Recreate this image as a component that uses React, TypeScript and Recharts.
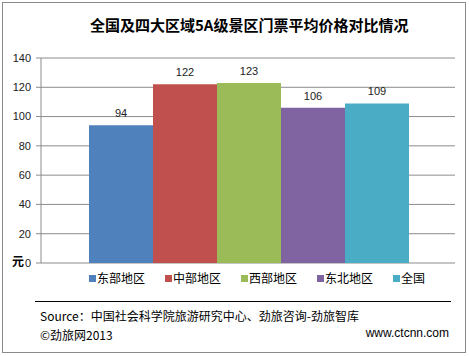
import React from 'react';
import { BarChart, Bar, XAxis, YAxis, CartesianGrid, LabelList } from 'recharts';

const categories = [''];
const seriesNames = ['东部地区', '中部地区', '西部地区', '东北地区', '全国'];
const seriesValues = [94, 122, 123, 106, 109];
const seriesColors = ['#4F81BD', '#C0504D', '#9BBB59', '#8064A2', '#4BACC6'];
const yTicks = [0, 20, 40, 60, 80, 100, 120, 140];
const title = '全国及四大区域5A级景区门票平均价格对比情况';
const yUnit = '元';
const sourceText = 'Source：中国社会科学院旅游研究中心、劲旅咨询-劲旅智库';
const copyrightText = '©劲旅网2013';
const siteText = 'www.ctcnn.com';

const data = categories.map((c) => {
  const row: Record<string, string | number> = { name: c };
  seriesNames.forEach((s, i) => {
    row[s] = seriesValues[i];
  });
  return row;
});

const FONT = '"Liberation Sans", "Noto Sans CJK SC", sans-serif';
const CJK = '"Noto Sans CJK SC", "Liberation Sans", sans-serif';

export default function App() {
  return (
    <div style={{ position: 'absolute', left: 0, top: 0, width: 469, height: 356, background: '#fff', fontFamily: CJK }}>
      <div style={{ position: 'absolute', left: 2, top: 2, width: 462, height: 349, border: '1px solid #8a8a8a' }} />
      <BarChart
        width={469}
        height={356}
        data={data}
        margin={{ top: 58, right: 14, bottom: 93, left: 0 }}
        barCategoryGap={48}
        barGap={0}
      >
        <CartesianGrid vertical={false} stroke="#8c8c8c" />
        <XAxis dataKey="name" height={0} tick={false} tickLine={false} axisLine={{ stroke: '#8c8c8c' }} />
        <YAxis
          width={41}
          domain={[0, 140]}
          ticks={yTicks}
          interval={0}
          tickSize={5}
          tickMargin={5}
          axisLine={{ stroke: '#8c8c8c' }}
          tickLine={{ stroke: '#8c8c8c' }}
          tick={{ fontSize: 11, fill: '#222', fontFamily: FONT }}
        />
        {seriesNames.map((s, i) => (
          <Bar key={s} dataKey={s} fill={seriesColors[i]} isAnimationActive={false}>
            <LabelList dataKey={s} position="top" offset={8} style={{ fontSize: 11, fill: '#222', fontFamily: FONT }} />
          </Bar>
        ))}
      </BarChart>
      <div style={{ position: 'absolute', left: 89, top: 271, display: 'flex', flexDirection: 'row', fontSize: 12, color: '#000' }}>
        {seriesNames.map((s, i) => (
          <div key={s} style={{ display: 'flex', alignItems: 'center', width: 76 }}>
            <span style={{ display: 'inline-block', width: 7, height: 7, background: seriesColors[i], marginRight: 1 }} />
            <span style={{ lineHeight: '14px' }}>{s}</span>
          </div>
        ))}
      </div>
      <div style={{ position: 'absolute', left: 90, top: 14, fontSize: 15, fontWeight: 'bold', whiteSpace: 'nowrap', color: '#000' }}>{title}</div>
      <div style={{ position: 'absolute', left: 12, top: 252, fontSize: 12, fontWeight: 'bold', color: '#000' }}>{yUnit}</div>
      <div style={{ position: 'absolute', left: 35, top: 301, width: 416, borderTop: '1px solid #000' }} />
      <div style={{ position: 'absolute', left: 40, top: 307, fontSize: 12, whiteSpace: 'nowrap', color: '#000' }}>{sourceText}</div>
      <div style={{ position: 'absolute', left: 40, top: 326, fontSize: 12, whiteSpace: 'nowrap', color: '#000' }}>{copyrightText}</div>
      <div style={{ position: 'absolute', right: 20, top: 326, fontSize: 12, whiteSpace: 'nowrap', color: '#000', fontFamily: FONT }}>{siteText}</div>
    </div>
  );
}
